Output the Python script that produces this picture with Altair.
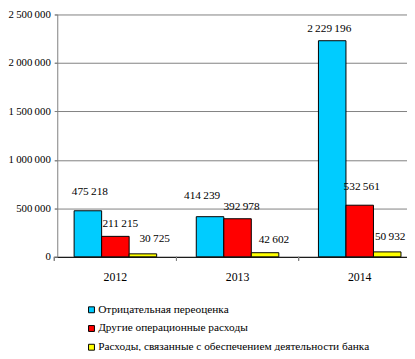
import altair as alt
import pandas as pd

years = ["2012", "2013", "2014"]
series = [
    "Отрицательная переоценка",
    "Другие операционные расходы",
    "Расходы, связанные с обеспечением деятельности банка",
]
neg_revaluation = [475218, 414239, 2229196]
other_operating = [211215, 392978, 532561]
bank_support = [30725, 42602, 50932]
colors = ["#00CCFF", "#FF0000", "#FFFF00"]
y_ticks = [0, 500000, 1000000, 1500000, 2000000, 2500000]

# label placement (style): (dx, dy) per series, per year
label_offsets = [
    [(2, -19), (-8, -21), (-3, -12)],
    [(5, -12), (4, -12), (2, -18)],
    [(12, -15), (9, -13), (3, -15)],
]

rows = []
for s, vals in zip(series, [neg_revaluation, other_operating, bank_support]):
    for yr, v in zip(years, vals):
        rows.append({"year": yr, "series": s, "value": v})
df = pd.DataFrame(rows)

FONT = "Liberation Serif"
W, H = 355, 246

x_scale = alt.Scale(range=[-3, 369], paddingInner=0, paddingOuter=0)
x_enc = alt.X("year:N", sort=years, title=None, scale=x_scale,
              axis=alt.Axis(labelAngle=0, ticks=False, labelPadding=15, labelFont=FONT,
                            labelFontSize=12, labelColor="black", domainColor="#000000",
                            domainWidth=1, grid=False))
xoff = alt.XOffset("series:N", sort=series,
                   scale=alt.Scale(paddingInner=0, paddingOuter=0.72))
y_enc = alt.Y("value:Q", title=None,
              scale=alt.Scale(domain=[0, 2500000], nice=False),
              axis=alt.Axis(values=y_ticks, format=",d", labelFont=FONT, labelFontSize=11,
                            labelColor="black", tickSize=3, tickColor="#808080",
                            labelPadding=4, domainColor="#808080", gridColor="#808080",
                            gridWidth=1))

base = alt.Chart(df)

bars = base.mark_bar(stroke="black", strokeWidth=1).encode(
    x=x_enc,
    xOffset=xoff,
    y=y_enc,
    color=alt.Color("series:N", sort=series,
                    scale=alt.Scale(domain=series, range=colors),
                    legend=alt.Legend(title=None, orient="none", legendX=29, legendY=294,
                                      symbolType="square", symbolSize=36,
                                      symbolStrokeColor="black", symbolStrokeWidth=1,
                                      labelFont=FONT, labelFontSize=11.5, labelColor="black",
                                      labelLimit=400, rowPadding=6, symbolOffset=0,
                                      labelOffset=1)),
)

ticks = base.mark_rule(color="#808080").encode(
    x=alt.X("year:N", sort=years, bandPosition=0),
    y=alt.value(H),
    y2=alt.value(H + 4),
)

texts = []
for si, s in enumerate(series):
    for yi, yr in enumerate(years):
        dx, dy = label_offsets[si][yi]
        texts.append(
            base.transform_filter((alt.datum.series == s) & (alt.datum.year == yr))
            .mark_text(font=FONT, fontSize=11.5, color="black", baseline="middle",
                       dx=dx, dy=dy)
            .encode(x=alt.X("year:N", sort=years), xOffset=xoff, y="value:Q",
                    text=alt.Text("value:Q", format=",d"))
        )

chart = alt.layer(bars, ticks, *texts).properties(
    width=W, height=H,
    autosize=alt.AutoSizeParams(type="none"),
    padding={"left": 50, "top": 4, "right": 0, "bottom": 93},
).configure(
    font=FONT,
    locale={"number": {"decimal": ",", "thousands": "\u2009", "grouping": [3],
                       "currency": ["", ""]}}
).configure_view(stroke=None)

chart.save("out.html", embed_options={"renderer": "svg", "actions": False})
